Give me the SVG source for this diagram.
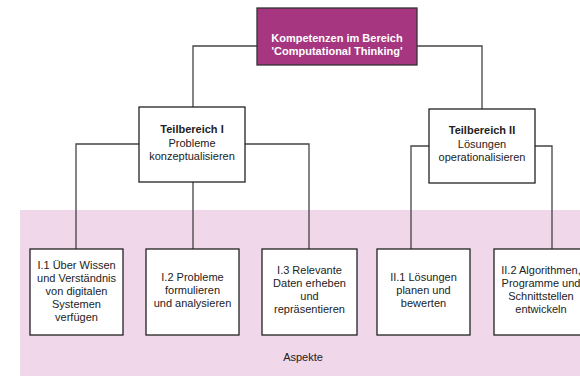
<svg xmlns="http://www.w3.org/2000/svg" width="580" height="376" viewBox="0 0 580 376">
<style>
.box{fill:#ffffff;stroke:#222222;stroke-width:1.3}
.top{fill:#a6367f;stroke:#333333;stroke-width:1.3}
.conn{fill:none;stroke:#444444;stroke-width:1.3}
text{font-family:"Liberation Sans",Arial,sans-serif;font-size:11px;fill:#222222;text-anchor:middle}
.b{font-weight:bold}
.w{fill:#ffffff;font-weight:bold}
</style>
<rect id="aspekte-band" x="20" y="210" width="560" height="166" fill="#f0d7ea"/>
<text x="303" y="361">Aspekte</text>
<g id="connectors">
<path class="conn" d="M193,107 V46 H257 M417,46 H482 V109"/>
<path class="conn" d="M139,144 H76 V249 M245,144 H309 V249 M193,182 V249"/>
<path class="conn" d="M429,146 H411 V249 M535,146 H552 V249"/>
</g>
<g id="root">
<rect class="top" x="257" y="8" width="160" height="57"/>
<text class="w" x="337" y="42">Kompetenzen im Bereich</text>
<text class="w" x="337" y="55">'Computational Thinking'</text>
</g>
<g id="tb1">
<rect class="box" x="139" y="107" width="106" height="75"/>
<text class="b" x="192" y="133">Teilbereich I</text>
<text x="192" y="146.5">Probleme</text>
<text x="192" y="160">konzeptualisieren</text>
</g>
<g id="tb2">
<rect class="box" x="429" y="109" width="106" height="74"/>
<text class="b" x="482" y="134">Teilbereich II</text>
<text x="482" y="147.5">Lösungen</text>
<text x="482" y="161">operationalisieren</text>
</g>
<g id="a11">
<rect class="box" x="30" y="249" width="93" height="86"/>
<text x="76.5" y="269">I.1 Über Wissen</text>
<text x="76.5" y="282">und Verständnis</text>
<text x="76.5" y="295">von digitalen</text>
<text x="76.5" y="308">Systemen</text>
<text x="76.5" y="321">verfügen</text>
</g>
<g id="a12">
<rect class="box" x="146" y="249" width="93" height="86"/>
<text x="192.5" y="281">I.2 Probleme</text>
<text x="192.5" y="294">formulieren</text>
<text x="192.5" y="307">und analysieren</text>
</g>
<g id="a13">
<rect class="box" x="262" y="249" width="95" height="86"/>
<text x="309.5" y="274">I.3 Relevante</text>
<text x="309.5" y="287">Daten erheben</text>
<text x="309.5" y="300">und</text>
<text x="309.5" y="313">repräsentieren</text>
</g>
<g id="a21">
<rect class="box" x="377" y="249" width="93" height="86"/>
<text x="423.5" y="281">II.1 Lösungen</text>
<text x="423.5" y="294">planen und</text>
<text x="423.5" y="307">bewerten</text>
</g>
<g id="a22">
<rect class="box" x="494" y="249" width="94" height="86"/>
<text x="541" y="274">II.2 Algorithmen,</text>
<text x="541" y="287">Programme und</text>
<text x="541" y="300">Schnittstellen</text>
<text x="541" y="313">entwickeln</text>
</g>
</svg>
